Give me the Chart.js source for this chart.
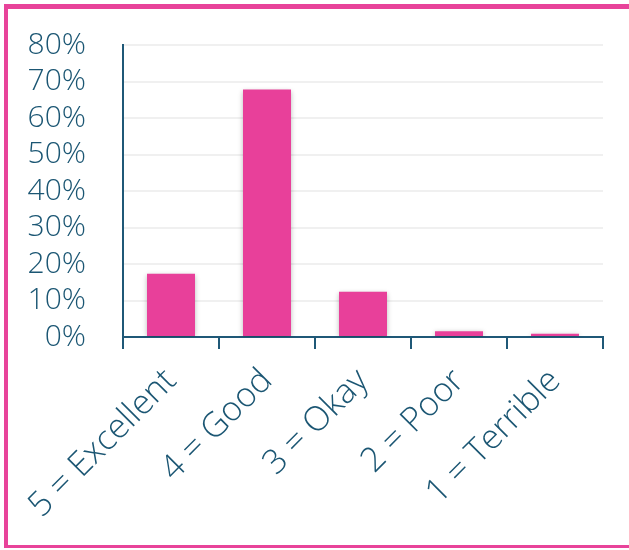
<!DOCTYPE html>
<html>
<head>
<meta charset="utf-8">
<script src="https://cdn.jsdelivr.net/npm/chart.js@4/dist/chart.umd.min.js"></script>
<style>
html,body{margin:0;padding:0;background:#fff;overflow:hidden;}
#wrap{position:absolute;left:0;top:0;width:629px;height:550px;}
#frame{position:absolute;left:4px;top:4px;width:700px;height:536px;border-top:5px solid #e8439a;border-left:4px solid #e8439a;border-bottom:3px solid #e8439a;pointer-events:none;}
</style>
</head>
<body>
<div id="wrap"><canvas id="c" width="629" height="550"></canvas></div>
<div id="frame"></div>
<script>
const categories = ["5 = Excellent", "4 = Good", "3 = Okay", "2 = Poor", "1 = Terrible"];
const values = [17.3, 67.8, 12.4, 1.6, 0.9];
const yTicks = [0, 10, 20, 30, 40, 50, 60, 70, 80];

const textColor = "#1b5673";
const axisColor = "#1f5877";
const barColor = "#e8409a";
const fontFamily = "'Open Sans', sans-serif";

const shadowPlugin = {
  id: 'barShadow',
  beforeDatasetsDraw(chart) {
    const ctx = chart.ctx;
    ctx.save();
    ctx.shadowColor = 'rgba(0,0,0,0.28)';
    ctx.shadowBlur = 5;
    ctx.shadowOffsetX = 0;
    ctx.shadowOffsetY = 1;
  },
  afterDatasetsDraw(chart) {
    chart.ctx.restore();
  }
};

new Chart(document.getElementById('c'), {
  type: 'bar',
  data: {
    labels: categories,
    datasets: [{
      data: values,
      backgroundColor: barColor,
      borderWidth: 0,
      categoryPercentage: 1.0,
      barPercentage: 0.5
    }]
  },
  plugins: [shadowPlugin],
  options: {
    responsive: false,
    maintainAspectRatio: false,
    animation: false,
    devicePixelRatio: 1,
    layout: { padding: { left: 0, right: 26, top: 45, bottom: 0 } },
    plugins: { legend: { display: false }, tooltip: { enabled: false } },
    scales: {
      x: {
        offset: true,
        grid: {
          display: true,
          drawOnChartArea: false,
          drawTicks: true,
          tickLength: 12,
          color: axisColor,
          lineWidth: 2,
          offset: true
        },
        border: { display: true, color: axisColor, width: 2 },
        ticks: {
          color: textColor,
          font: { family: fontFamily, size: 34, weight: 300 },
          minRotation: 45,
          maxRotation: 45,
          padding: 12,
          autoSkip: false
        },
        afterFit(scale) { scale.height = 213; }
      },
      y: {
        min: 0,
        max: 80,
        afterBuildTicks(scale) { scale.ticks = yTicks.map(v => ({ value: v })); },
        grid: {
          color: '#f0f0f0',
          lineWidth: 2,
          drawTicks: false
        },
        border: { display: true, color: axisColor, width: 2 },
        ticks: {
          color: textColor,
          font: { family: fontFamily, size: 30, weight: 300 },
          padding: 37,
          autoSkip: false,
          callback: v => v + '%'
        },
        afterFit(scale) { scale.width = 123; scale.paddingTop = 0; scale.paddingBottom = 0; }
      }
    }
  }
});
</script>
</body>
</html>
